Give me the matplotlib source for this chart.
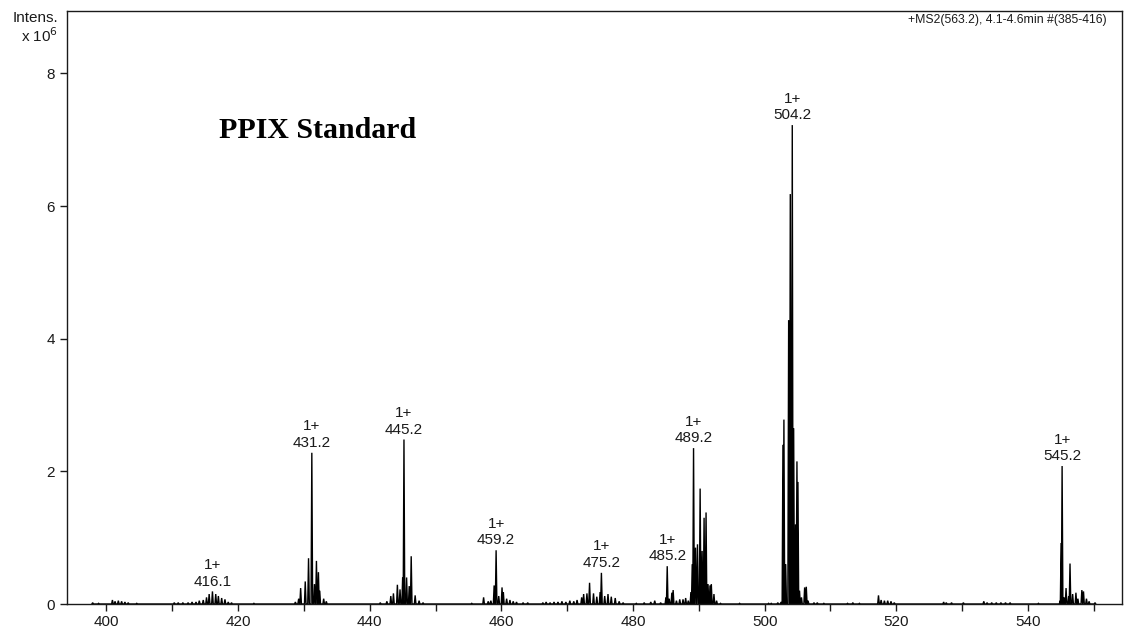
import numpy as np
import matplotlib
matplotlib.use("Agg")
import matplotlib.pyplot as plt

# Centroid peak list of the MS2 spectrum (m/z, intensity in units of 1e6)
peak_mz = [
    397.9, 398.8, 400.9, 401.3, 401.8, 402.3, 402.8, 403.3, 404.6,
    410.3, 410.9, 411.6, 412.4, 413.0, 413.6, 414.1, 414.7,
    415.2, 415.6, 416.1, 416.6, 417.0, 417.5, 418.0, 418.5, 419.0, 422.4,
    428.7, 429.2, 429.5, 430.2, 430.7, 431.2, 431.6, 431.9, 432.2, 432.4, 433.0, 433.4,
    441.6, 442.6, 443.2, 443.6, 444.2, 444.6, 445.0, 445.2, 445.6, 446.0, 446.3,
    446.9, 447.5, 448.1,
    455.5, 457.3, 458.0, 458.4, 458.9, 459.2, 459.6, 460.1, 460.3, 460.8, 461.3,
    461.8, 462.3, 463.3, 464.0,
    466.3, 466.8, 467.4, 468.0, 468.6, 469.2, 469.8, 470.4, 471.0, 471.5,
    472.2, 472.5, 473.0, 473.4, 474.0, 474.5, 475.0, 475.2, 475.7, 476.2, 476.7,
    477.3, 477.9, 478.5,
    480.5, 481.7, 482.7, 483.3, 484.2,
    485.0, 485.2, 485.5, 485.9, 486.1, 486.6, 487.1, 487.6, 488.0, 488.4,
    488.8, 489.0, 489.2, 489.5, 489.8, 490.2, 490.5, 490.8, 491.1, 491.4, 491.7,
    491.9, 492.3, 492.7, 493.3,
    496.2, 500.6, 501.0, 502.0, 502.5, 502.78, 502.93, 503.2, 503.65, 503.9, 504.2,
    504.41, 504.7, 504.91, 505.06, 505.3, 505.6, 506.08, 506.33, 506.6,
    507.5, 508.0, 509.0,
    512.6, 513.4, 514.4, 517.3, 517.7, 518.2, 518.7, 519.2, 519.7,
    527.2, 527.6, 528.4, 530.2, 533.3, 533.8, 534.5, 535.2, 535.9, 536.6, 537.3,
    541.6, 544.9, 545.05, 545.2, 545.5, 545.8, 546.2, 546.4, 546.8, 547.3, 547.6,
    548.2, 548.45, 548.9, 549.3, 550.2,
]
peak_int = [
    0.02, 0.01, 0.06, 0.04, 0.05, 0.04, 0.03, 0.02, 0.01,
    0.02, 0.02, 0.02, 0.02, 0.03, 0.03, 0.05, 0.06,
    0.10, 0.15, 0.19, 0.15, 0.12, 0.09, 0.07, 0.03, 0.02, 0.01,
    0.03, 0.08, 0.24, 0.34, 0.69, 2.28, 0.30, 0.65, 0.48, 0.20, 0.08, 0.04,
    0.02, 0.04, 0.12, 0.16, 0.29, 0.22, 0.40, 2.48, 0.40, 0.27, 0.72,
    0.13, 0.05, 0.02,
    0.01, 0.10, 0.04, 0.05, 0.28, 0.81, 0.12, 0.25, 0.18, 0.08, 0.06,
    0.04, 0.03, 0.02, 0.02,
    0.02, 0.03, 0.02, 0.03, 0.03, 0.04, 0.03, 0.05, 0.04, 0.06,
    0.10, 0.15, 0.16, 0.32, 0.16, 0.11, 0.18, 0.47, 0.12, 0.15, 0.11,
    0.09, 0.04, 0.02,
    0.01, 0.02, 0.03, 0.05, 0.02,
    0.10, 0.57, 0.08, 0.17, 0.21, 0.05, 0.07, 0.07, 0.09, 0.05,
    0.18, 0.60, 2.35, 0.85, 0.90, 1.74, 0.80, 1.30, 1.38, 0.30, 0.28,
    0.30, 0.15, 0.05, 0.01,
    0.01, 0.01, 0.01, 0.02, 0.03, 2.40, 2.78, 0.60, 4.28, 6.18, 7.22,
    2.65, 1.20, 2.15, 1.84, 0.20, 0.10, 0.25, 0.26, 0.05,
    0.02, 0.02, 0.01,
    0.01, 0.02, 0.01, 0.13, 0.06, 0.05, 0.05, 0.04, 0.02,
    0.03, 0.02, 0.02, 0.02, 0.04, 0.02, 0.02, 0.02, 0.02, 0.02, 0.02,
    0.01, 0.05, 0.92, 2.08, 0.10, 0.24, 0.12, 0.61, 0.15, 0.17, 0.08,
    0.21, 0.19, 0.08, 0.04, 0.02,
]

# Annotated ions (charge state and m/z)
label_mz = [416.1, 431.2, 445.2, 459.2, 475.2, 485.2, 489.2, 504.2, 545.2]
label_charge = ["1+"] * len(label_mz)

x_ticks = [400, 420, 440, 460, 480, 500, 520, 540]
x_minor = [410, 430, 450, 470, 490, 510, 530, 550]
y_ticks = [0, 2, 4, 6, 8]

plt.rcParams["font.family"] = ["Liberation Sans", "DejaVu Sans"]

fig = plt.figure(figsize=(11.25, 6.29), dpi=100)
ax = fig.add_axes([67 / 1125, 1 - 604 / 629, (1122 - 67) / 1125, (604 - 11) / 629])

# Profile trace: each centroid rendered as a narrow peak shape
half_w = 0.12
order = np.argsort(peak_mz)
mz = np.asarray(peak_mz)[order]
inten = np.asarray(peak_int)[order]
xs, ys = [], []
for m, h in zip(mz, inten):
    xs += [m - half_w, m, m + half_w]
    ys += [0.0, h, 0.0]
ax.plot(xs, ys, color="black", lw=1.0, solid_joinstyle="miter")

# Peak annotations
lookup = dict(zip(peak_mz, peak_int))
for m, z in zip(label_mz, label_charge):
    ax.annotate(f"{z}\n{m:.1f}", xy=(m, lookup[m]), xytext=(0, 2),
                textcoords="offset points", ha="center", va="bottom",
                fontsize=11, linespacing=1.25, color="#1a1a1a")

ax.set_xlim(394.0, 554.3)
ax.set_ylim(0, 8.94)
ax.set_xticks(x_ticks)
ax.set_xticks(x_minor, minor=True)
ax.set_yticks(y_ticks)
ax.tick_params(axis="both", which="both", direction="out", length=5,
               width=1, labelsize=11, colors="#1a1a1a")
ax.tick_params(axis="x", pad=3)
for s in ax.spines.values():
    s.set_linewidth(1.0)
    s.set_color("#1a1a1a")

ax.text((219 - 67) / 1055, (604 - 131) / 593, "PPIX Standard",
        transform=ax.transAxes, ha="left", va="center",
        fontsize=21.5, fontweight="bold", family="Liberation Serif")

fig.text(58 / 1125, 1 - 18 / 629, "Intens.", ha="right", va="center",
         fontsize=11, color="#1a1a1a")
fig.text(58 / 1125, 1 - 36 / 629, r"x 10$^{6}$", ha="right", va="center",
         fontsize=11, color="#1a1a1a")
fig.text(1107 / 1125, 1 - 20 / 629, "+MS2(563.2), 4.1-4.6min #(385-416)",
         ha="right", va="center", fontsize=8.8, color="#1a1a1a")

fig.savefig("out.png", dpi=100, facecolor="white")
